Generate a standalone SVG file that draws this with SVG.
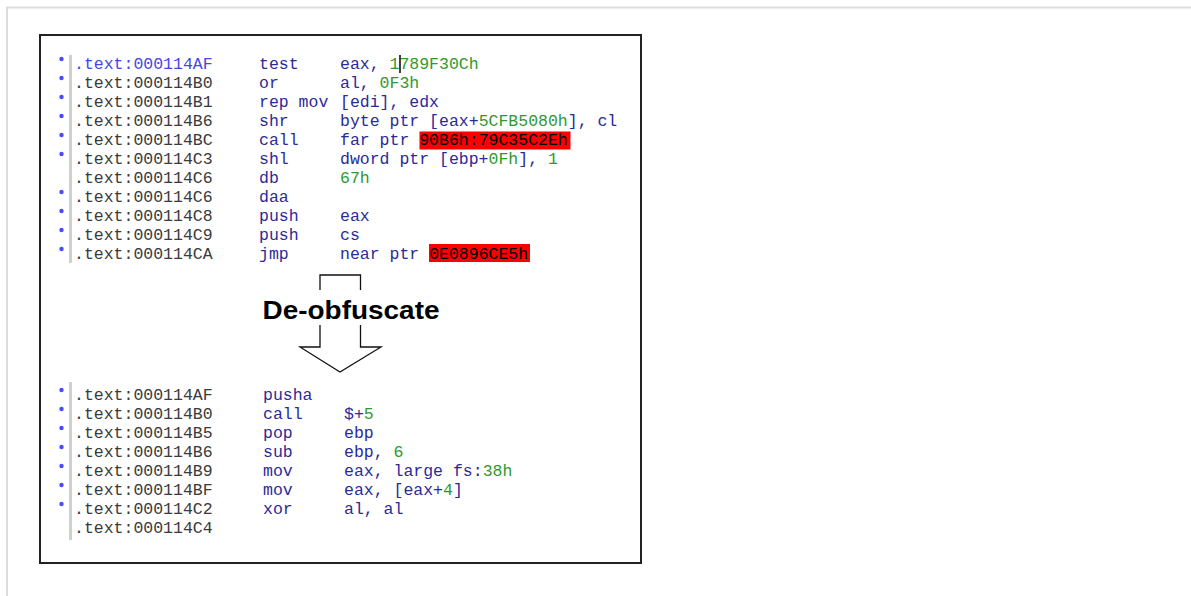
<svg xmlns="http://www.w3.org/2000/svg" width="1191" height="596" viewBox="0 0 1191 596">
<style>
.t{font-family:"Liberation Mono","Courier New",monospace;font-size:16.5px;fill:#3a3a3a}
.a{fill:#4646e8}
.m{fill:#2a2a9a}
.o{fill:#2a2a9a}
.n{fill:#2e9a2e}
.k{fill:#000}
.dot{fill:#4a4aff}
.sep{stroke:#d0d0d0;stroke-width:3}
.arr{fill:none;stroke:#111;stroke-width:1.3}
</style>
<rect width="1191" height="596" fill="#fff"/>
<g id="frame">
<path d="M7 596 V7.5 H1191" fill="none" stroke="#dcdcdc" stroke-width="2"/>
<rect x="40" y="35" width="601" height="528" fill="#fff" stroke="#222" stroke-width="2"/>
</g>
<g id="obfuscated">
<line class="sep" x1="70.5" y1="55" x2="70.5" y2="263"/>
<g class="dot">
<circle cx="61.5" cy="59" r="2.2"/><circle cx="61.5" cy="78" r="2.2"/><circle cx="61.5" cy="97" r="2.2"/><circle cx="61.5" cy="116" r="2.2"/><circle cx="61.5" cy="135" r="2.2"/><circle cx="61.5" cy="154" r="2.2"/><circle cx="61.5" cy="192" r="2.2"/><circle cx="61.5" cy="211" r="2.2"/><circle cx="61.5" cy="230" r="2.2"/><circle cx="61.5" cy="249" r="2.2"/>
</g>
<rect x="419.5" y="131.5" width="151" height="18" fill="#ff0000"/>
<rect x="429" y="244" width="101" height="18" fill="#ff0000"/>
<text class="t" x="74" y="68.5"><tspan class="a">.text:000114AF</tspan><tspan class="m" x="259">test</tspan><tspan class="o" x="340">eax, </tspan><tspan class="n">1789F30Ch</tspan></text>
<text class="t" x="74" y="87.5">.text:000114B0<tspan class="m" x="259">or</tspan><tspan class="o" x="340">al, </tspan><tspan class="n">0F3h</tspan></text>
<text class="t" x="74" y="106.5">.text:000114B1<tspan class="m" x="259">rep mov</tspan><tspan class="o" x="340">[edi], edx</tspan></text>
<text class="t" x="74" y="125.5">.text:000114B6<tspan class="m" x="259">shr</tspan><tspan class="o" x="340">byte ptr [eax+</tspan><tspan class="n">5CFB5080h</tspan><tspan class="o">], cl</tspan></text>
<text class="t" x="74" y="144.5">.text:000114BC<tspan class="m" x="259">call</tspan><tspan class="o" x="340">far ptr </tspan><tspan class="k">90B6h:79C35C2Eh</tspan></text>
<text class="t" x="74" y="163.5">.text:000114C3<tspan class="m" x="259">shl</tspan><tspan class="o" x="340">dword ptr [ebp+</tspan><tspan class="n">0Fh</tspan><tspan class="o">], </tspan><tspan class="n">1</tspan></text>
<text class="t" x="74" y="182.5">.text:000114C6<tspan class="m" x="259">db</tspan><tspan class="n" x="340">67h</tspan></text>
<text class="t" x="74" y="201.5">.text:000114C6<tspan class="m" x="259">daa</tspan></text>
<text class="t" x="74" y="220.5">.text:000114C8<tspan class="m" x="259">push</tspan><tspan class="o" x="340">eax</tspan></text>
<text class="t" x="74" y="239.5">.text:000114C9<tspan class="m" x="259">push</tspan><tspan class="o" x="340">cs</tspan></text>
<text class="t" x="74" y="258.5">.text:000114CA<tspan class="m" x="259">jmp</tspan><tspan class="o" x="340">near ptr </tspan><tspan class="k">0E0896CE5h</tspan></text>
<line x1="400" y1="55" x2="400" y2="73" stroke="#000" stroke-width="1.5"/>
</g>
<g id="arrow">
<polyline class="arr" points="320,290 320,275 360.5,275 360.5,290"/>
<polyline class="arr" points="320,325 320,347 300,347 340,372 381,347 360.5,347 360.5,325"/>
<text x="351" y="318.5" text-anchor="middle" font-family="Liberation Sans,Arial,sans-serif" font-weight="bold" font-size="26" fill="#000" textLength="177" lengthAdjust="spacingAndGlyphs">De-obfuscate</text>
</g>
<g id="deobfuscated">
<line class="sep" x1="70.5" y1="382" x2="70.5" y2="540"/>
<g class="dot">
<circle cx="61.5" cy="390" r="2.2"/><circle cx="61.5" cy="409" r="2.2"/><circle cx="61.5" cy="428" r="2.2"/><circle cx="61.5" cy="447" r="2.2"/><circle cx="61.5" cy="466" r="2.2"/><circle cx="61.5" cy="485" r="2.2"/><circle cx="61.5" cy="504" r="2.2"/>
</g>
<text class="t" x="74" y="399.5">.text:000114AF<tspan class="m" x="263">pusha</tspan></text>
<text class="t" x="74" y="418.5">.text:000114B0<tspan class="m" x="263">call</tspan><tspan class="o" x="344">$+</tspan><tspan class="n">5</tspan></text>
<text class="t" x="74" y="437.5">.text:000114B5<tspan class="m" x="263">pop</tspan><tspan class="o" x="344">ebp</tspan></text>
<text class="t" x="74" y="456.5">.text:000114B6<tspan class="m" x="263">sub</tspan><tspan class="o" x="344">ebp, </tspan><tspan class="n">6</tspan></text>
<text class="t" x="74" y="475.5">.text:000114B9<tspan class="m" x="263">mov</tspan><tspan class="o" x="344">eax, large fs:</tspan><tspan class="n">38h</tspan></text>
<text class="t" x="74" y="494.5">.text:000114BF<tspan class="m" x="263">mov</tspan><tspan class="o" x="344">eax, [eax+</tspan><tspan class="n">4</tspan><tspan class="o">]</tspan></text>
<text class="t" x="74" y="513.5">.text:000114C2<tspan class="m" x="263">xor</tspan><tspan class="o" x="344">al, al</tspan></text>
<text class="t" x="74" y="532.5">.text:000114C4</text>
</g>
</svg>
